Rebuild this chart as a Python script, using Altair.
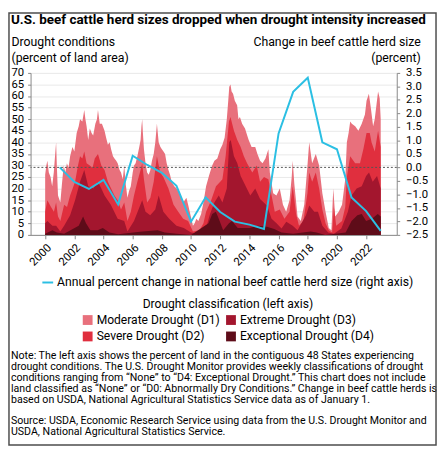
import altair as alt
import pandas as pd

FONT = "Roboto"

# ---- Annual percent change in national beef cattle herd size (right axis)
herd_years = list(range(2001, 2024))
herd_change = [0.0, -0.54, -0.80, -0.46, -1.37, 0.43, 0.09, -0.20, -0.68, -2.01,
               -1.11, -1.65, -2.01, -2.12, -2.28, 1.26, 2.80, 3.32, 0.93, 0.67,
               -1.11, -1.62, -2.35]

# ---- Drought conditions, percent of land area (cumulative, left axis)
d1_total = [(2000.00, 26), (2000.08, 30), (2000.15, 32), (2000.25, 27), (2000.37, 25), (2000.48, 21),
            (2000.59, 27), (2000.70, 36), (2000.75, 40), (2000.80, 30), (2000.88, 17), (2001.04, 14),
            (2001.15, 22), (2001.27, 30), (2001.38, 27), (2001.49, 31), (2001.60, 29), (2001.71, 34),
            (2001.87, 38), (2002.00, 36), (2002.16, 44), (2002.30, 47), (2002.39, 50), (2002.55, 49),
            (2002.68, 54), (2002.76, 50), (2002.84, 47), (2002.95, 41), (2003.06, 46), (2003.18, 44),
            (2003.29, 43), (2003.44, 48), (2003.55, 50), (2003.62, 54), (2003.74, 48), (2003.89, 48),
            (2004.07, 45), (2004.18, 42), (2004.30, 39), (2004.42, 40), (2004.52, 37), (2004.65, 34),
            (2004.75, 33), (2004.87, 32), (2004.97, 31), (2005.10, 28), (2005.20, 27), (2005.32, 24),
            (2005.42, 30), (2005.52, 22), (2005.64, 16), (2005.75, 19), (2005.87, 21), (2006.00, 27),
            (2006.09, 30), (2006.20, 31), (2006.32, 34), (2006.45, 38), (2006.54, 41), (2006.60, 47),
            (2006.65, 50), (2006.70, 44), (2006.77, 37), (2006.88, 31), (2006.99, 27), (2007.10, 26),
            (2007.21, 28), (2007.32, 32), (2007.44, 35), (2007.55, 40), (2007.66, 48), (2007.72, 44),
            (2007.78, 40), (2007.90, 38), (2008.00, 37), (2008.11, 36), (2008.22, 35), (2008.33, 31),
            (2008.45, 28), (2008.56, 26), (2008.67, 23), (2008.85, 21), (2009.01, 20), (2009.12, 19),
            (2009.23, 18), (2009.35, 16), (2009.46, 14), (2009.57, 15), (2009.68, 16), (2009.80, 13),
            (2009.91, 10), (2010.02, 7), (2010.13, 4), (2010.25, 5), (2010.36, 7), (2010.50, 6),
            (2010.69, 9), (2010.85, 14), (2011.03, 21), (2011.25, 26), (2011.45, 30), (2011.60, 32),
            (2011.80, 33), (2012.00, 37), (2012.15, 39), (2012.30, 42), (2012.45, 50), (2012.55, 58),
            (2012.62, 64), (2012.70, 65), (2012.78, 62), (2012.88, 61), (2013.00, 58), (2013.16, 56),
            (2013.25, 50), (2013.35, 51), (2013.50, 48), (2013.70, 46), (2013.85, 43), (2013.95, 41),
            (2014.15, 38), (2014.40, 38), (2014.55, 35), (2014.73, 32), (2014.90, 31), (2015.10, 33),
            (2015.30, 37), (2015.40, 27), (2015.63, 18), (2015.85, 17), (2016.08, 20), (2016.30, 13),
            (2016.52, 10), (2016.75, 15), (2016.90, 25), (2016.97, 32), (2017.08, 22), (2017.30, 8),
            (2017.52, 6), (2017.76, 13), (2017.98, 30), (2018.10, 40), (2018.30, 31), (2018.55, 35),
            (2018.78, 30), (2019.00, 18), (2019.22, 10), (2019.44, 3), (2019.62, 2), (2019.75, 20),
            (2019.88, 8), (2020.12, 10), (2020.35, 13), (2020.57, 24), (2020.68, 40), (2020.80, 44),
            (2020.91, 49), (2021.02, 48), (2021.25, 47), (2021.47, 45), (2021.70, 48), (2021.92, 52),
            (2022.03, 58), (2022.19, 61), (2022.32, 55), (2022.48, 47), (2022.59, 50), (2022.82, 62),
            (2022.93, 59), (2023.00, 50)]

d2_plus = [(2000.00, 10), (2000.15, 15), (2000.40, 12), (2000.60, 10), (2000.75, 14), (2000.88, 8),
           (2001.04, 6), (2001.30, 13), (2001.50, 12), (2001.71, 17), (2002.05, 23), (2002.25, 30),
           (2002.39, 34), (2002.55, 33), (2002.68, 36), (2002.84, 31), (2003.06, 30), (2003.25, 29),
           (2003.40, 33), (2003.62, 35), (2003.85, 30), (2004.07, 28), (2004.30, 23), (2004.52, 20),
           (2004.75, 17), (2004.97, 15), (2005.20, 11), (2005.42, 14), (2005.64, 6), (2005.87, 10),
           (2006.09, 17), (2006.32, 23), (2006.54, 28), (2006.65, 31), (2006.77, 24), (2006.99, 14),
           (2007.21, 16), (2007.44, 23), (2007.66, 34), (2007.88, 27), (2008.10, 25), (2008.45, 20),
           (2008.80, 13), (2009.12, 10), (2009.46, 7), (2009.80, 6), (2010.13, 1.5), (2010.58, 2),
           (2010.85, 5), (2011.03, 10), (2011.38, 15), (2011.71, 21), (2012.00, 23), (2012.15, 24),
           (2012.37, 34), (2012.60, 49), (2012.70, 51), (2012.94, 45), (2013.17, 41), (2013.40, 38),
           (2013.62, 34), (2013.84, 31), (2014.20, 27), (2014.50, 30), (2014.73, 23), (2015.00, 25),
           (2015.30, 24), (2015.52, 17), (2015.74, 10), (2016.08, 11), (2016.40, 7), (2016.75, 10),
           (2016.97, 21), (2017.20, 9), (2017.40, 4), (2017.70, 6), (2017.98, 18), (2018.10, 27),
           (2018.30, 23), (2018.55, 27), (2018.78, 20), (2019.00, 11), (2019.22, 5), (2019.44, 2),
           (2019.67, 1), (2019.79, 12), (2019.95, 4), (2020.35, 6), (2020.57, 12), (2020.68, 25),
           (2020.91, 34), (2021.25, 31), (2021.58, 31), (2021.81, 37), (2022.03, 44), (2022.25, 44),
           (2022.37, 40), (2022.59, 36), (2022.82, 45), (2023.00, 38)]

d3_plus = [(2000.00, 5), (2000.15, 6), (2000.50, 4), (2000.75, 4), (2001.04, 1.5), (2001.30, 4),
           (2001.71, 8.5), (2002.05, 15), (2002.39, 23), (2002.68, 28), (2002.95, 21), (2003.30, 20),
           (2003.62, 23), (2003.85, 20), (2004.07, 17), (2004.50, 13), (2004.97, 7), (2005.42, 6),
           (2005.64, 1.5), (2006.09, 6), (2006.40, 11), (2006.65, 15), (2006.88, 10), (2007.20, 8.5),
           (2007.55, 11), (2007.78, 17), (2008.10, 10), (2008.50, 7), (2009.00, 4), (2009.50, 3),
           (2010.00, 1), (2010.50, 0.5), (2011.03, 3), (2011.30, 9), (2011.60, 14), (2011.90, 17),
           (2012.15, 14), (2012.45, 20), (2012.62, 40), (2012.72, 41), (2012.94, 34), (2013.17, 31),
           (2013.40, 25.5), (2013.62, 22.6), (2014.06, 17), (2014.40, 20), (2014.73, 15.5),
           (2015.20, 12.7), (2015.52, 7), (2015.86, 5), (2016.20, 2.8), (2016.53, 5.7), (2016.97, 4),
           (2017.30, 2), (2017.88, 8.5), (2018.10, 12.7), (2018.45, 10), (2018.70, 10), (2019.00, 4),
           (2019.40, 1), (2019.80, 0.5), (2020.30, 2.8), (2020.75, 10), (2021.00, 17), (2021.35, 20),
           (2021.70, 21), (2022.00, 25.5), (2022.20, 27), (2022.45, 23), (2022.75, 25.5), (2023.00, 20)]

d4_only = [(2000.00, 0.5), (2000.50, 2), (2000.80, 1), (2001.30, 0.5), (2002.30, 4), (2002.60, 8),
           (2002.80, 5), (2003.10, 2), (2003.60, 2), (2003.95, 3), (2004.40, 1), (2005.00, 0.3),
           (2006.50, 1.4), (2007.70, 2), (2008.20, 1), (2009.00, 0.5), (2010.00, 0), (2011.20, 5),
           (2011.45, 9), (2011.70, 10), (2011.90, 7), (2012.20, 2), (2012.60, 5), (2012.80, 6),
           (2013.20, 3), (2014.00, 3), (2014.60, 4), (2015.20, 3.5), (2015.70, 2.5), (2016.20, 1),
           (2017.00, 0.5), (2018.20, 1.5), (2018.60, 1), (2019.20, 0), (2020.60, 1), (2021.00, 6),
           (2021.40, 8.5), (2021.70, 9), (2022.00, 6), (2022.40, 7), (2022.80, 9), (2023.00, 8)]

classes = ["Moderate Drought (D1)", "Severe Drought (D2)",
           "Extreme Drought (D3)", "Exceptional Drought (D4)"]
class_colors = ["#e8707c", "#e02f3e", "#a3162e", "#5e0c19"]
line_label = "Annual percent change in national beef cattle herd size (right axis)"
line_color = "#2bbfe3"

x_ticks = list(range(2000, 2023, 2))
left_ticks = list(range(0, 75, 5))
right_ticks = [-2.5, -2.0, -1.5, -1.0, -0.5, 0.0, 0.5, 1.0, 1.5, 2.0, 2.5, 3.0, 3.5]

title_text = "U.S. beef cattle herd sizes dropped when drought intensity increased"
note_lines = [
    "Note: The left axis shows the percent of land in the contiguous 48 States experiencing",
    "drought conditions. The U.S. Drought Monitor provides weekly classifications of drought",
    "conditions ranging from \u201cNone\u201d to \u201cD4: Exceptional Drought.\u201d This chart does not include",
    "land classified as \u201cNone\u201d or \u201cD0: Abnormally Dry Conditions.\u201d Change in beef cattle herds is",
    "based on USDA, National Agricultural Statistics Service data as of January 1.",
]
source_lines = [
    "Source: USDA, Economic Research Service using data from the U.S. Drought Monitor and",
    "USDA, National Agricultural Statistics Service.",
]


def to_frame(pairs, name):
    return pd.DataFrame({"year": [p[0] for p in pairs],
                         "pct": [p[1] for p in pairs],
                         "cls": name})


layers_data = [(d1_total, classes[0]), (d2_plus, classes[1]),
               (d3_plus, classes[2]), (d4_only, classes[3])]

herd_df = pd.DataFrame({"year": herd_years, "change": herd_change, "series": line_label})

W, H = 373, 165
x_scale = alt.Scale(domain=[1999, 2024.1], nice=False, zero=False)
left_scale = alt.Scale(domain=[0, 70], nice=False)
right_scale = alt.Scale(domain=[-2.5, 3.5], nice=False, zero=False)

x_axis = alt.Axis(values=x_ticks, format="d", labelAngle=-45, labelFontSize=11.5,
                  labelColor="#000", domainColor="#888", tickColor="#888", tickSize=4,
                  grid=False, title=None, labelPadding=3)
left_axis = alt.Axis(values=left_ticks, title=["Drought conditions", "(percent of land area)"],
                     titleAngle=0, titleAlign="left", titleBaseline="alphabetic",
                     titleX=-20, titleY=-28, titleFontSize=12.5, titleFontWeight="normal",
                     titleColor="#000", titleLineHeight=16, labelFontSize=11.5,
                     labelColor="#000", domainColor="#888", tickColor="#888", tickSize=3,
                     labelPadding=4, grid=True, gridColor="#e9e9e9")
right_axis = alt.Axis(orient="right", values=right_ticks, format=".1f",
                      title=["Change in beef cattle herd size", "(percent)"],
                      titleAngle=0, titleAlign="right", titleBaseline="alphabetic",
                      titleX=24, titleY=-28, titleFontSize=12.5, titleFontWeight="normal",
                      titleColor="#000", titleLineHeight=16, labelFontSize=11.5,
                      labelColor="#000", domainColor="#888", tickColor="#888", tickSize=3,
                      labelPadding=6, grid=False)

fill_enc = alt.Fill(
    "cls:N",
    scale=alt.Scale(domain=classes, range=class_colors),
    legend=alt.Legend(
        title="Drought classification (left axis)", orient="none", legendX=52, legendY=229,
        columns=2, columnPadding=5, rowPadding=4, symbolType="square", symbolSize=100,
        symbolStrokeWidth=0, labelOffset=3, titleAnchor="middle", titleAlign="center",
        titlePadding=4, titleFontSize=12.3, titleFontWeight="normal", labelFontSize=12.3,
        labelLimit=300, padding=0, titleColor="#000", labelColor="#000",
    ),
)

area_layers = []
for pairs, name in layers_data:
    df = to_frame(pairs, name)
    area_layers.append(
        alt.Chart(df).mark_area(interpolate="linear", opacity=1).encode(
            x=alt.X("year:Q", scale=x_scale, axis=x_axis),
            y=alt.Y("pct:Q", scale=left_scale, axis=left_axis),
            fill=fill_enc,
        )
    )

left = alt.layer(*area_layers)

zero_rule = alt.Chart(pd.DataFrame({"v": [0.0]})).mark_rule(
    color="#555", strokeDash=[2, 2], strokeWidth=1
).encode(y=alt.Y("v:Q", scale=right_scale, axis=right_axis))

herd_line = alt.Chart(herd_df).mark_line(strokeWidth=2).encode(
    x=alt.X("year:Q", scale=x_scale, axis=x_axis),
    y=alt.Y("change:Q", scale=right_scale, axis=right_axis),
    stroke=alt.Stroke("series:N", scale=alt.Scale(range=[line_color]),
                      legend=alt.Legend(title=None, orient="none", legendX=11, legendY=207,
                                        symbolType="stroke", symbolSize=121, symbolStrokeWidth=2,
                                        labelOffset=3, labelFontSize=12.4, labelLimit=420,
                                        labelColor="#000", padding=0)),
)

right = alt.layer(zero_rule, herd_line)

one = pd.DataFrame({"k": [0]})


def text_layer(text, x, y, size, weight="normal", align="left", line_height=None):
    kw = dict(align=align, baseline="alphabetic", fontSize=size, fontWeight=weight,
              font=FONT, color="#000", text=text)
    if line_height is not None:
        kw["lineHeight"] = line_height
    return alt.Chart(one).mark_text(**kw).encode(x=alt.value(x), y=alt.value(y))


title_layer = text_layer(title_text, -20, -50, 13.7, weight="bold")
note_layer = text_layer(note_lines, -20, 291, 10.8, line_height=11.2)
source_layer = text_layer(source_lines, -20, 358, 10.8, line_height=11.0)

# thin frame round the whole graphic
frame = alt.Chart(one).mark_rect(fillOpacity=0, stroke="#4d4d4d", strokeWidth=1.5).encode(
    x=alt.value(-22), x2=alt.value(413), y=alt.value(-61), y2=alt.value(379)
)

chart = alt.layer(left, right, title_layer, note_layer, source_layer, frame).resolve_scale(
    y="independent"
).properties(
    width=W, height=H,
    autosize=alt.AutoSizeParams(type="none"),
    padding={"left": 23, "top": 62, "right": 41, "bottom": 215},
).configure(font=FONT).configure_view(strokeWidth=0)

chart.save("out.html", embed_options={"renderer": "svg", "actions": False})
